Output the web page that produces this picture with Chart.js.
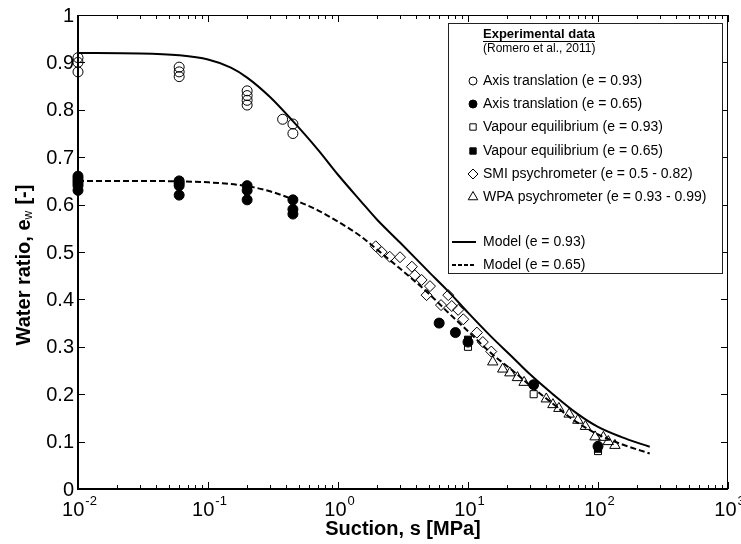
<!DOCTYPE html>
<html>
<head>
<meta charset="utf-8">
<script src="https://cdn.jsdelivr.net/npm/chart.js@4.4.1/dist/chart.umd.min.js"></script>
<style>
  html, body { margin: 0; padding: 0; background: #fff; }
  canvas { display: block; }
</style>
</head>
<body>
<canvas id="chart" width="741" height="544"></canvas>
<script>
// suction s [MPa] / water ratio e_w
const axisOpenS = [0.01, 0.01, 0.01, 0.06, 0.06, 0.06, 0.2, 0.2, 0.2, 0.2, 0.375, 0.45, 0.45]
const axisOpenE = [0.91, 0.90, 0.88, 0.89, 0.88, 0.87, 0.84, 0.83, 0.82, 0.81, 0.78, 0.77, 0.75]

const axisFilledS = [0.01, 0.01, 0.01, 0.01, 0.01, 0.01, 0.06, 0.06, 0.06, 0.06, 0.2, 0.2, 0.2, 0.45, 0.45, 0.45, 6, 8, 10, 32, 100]
const axisFilledE = [0.66, 0.655, 0.65, 0.645, 0.64, 0.63, 0.65, 0.645, 0.64, 0.62, 0.64, 0.63, 0.61, 0.61, 0.59, 0.58, 0.35, 0.33, 0.31, 0.22, 0.09]

const vapourOpenS = [10, 32, 100]
const vapourOpenE = [0.30, 0.20, 0.08]

const vapourFilledS = [6, 8, 10, 32, 100]
const vapourFilledE = [0.35, 0.33, 0.315, 0.22, 0.085]

const smiS = [1.95, 2.17, 2.5, 3.0, 3.7, 3.9, 4.4, 5.1, 4.8, 7.05, 6.2, 7.5, 8.4, 9.2, 11.7, 13.0, 15.1]
const smiE = [0.512, 0.50, 0.49, 0.489, 0.469, 0.451, 0.441, 0.428, 0.409, 0.409, 0.388, 0.386, 0.378, 0.358, 0.33, 0.31, 0.29]

const wpaS = [15.5, 18.5, 21, 24, 27, 40, 45, 50, 60, 70, 80, 95, 110, 120, 135]
const wpaE = [0.268, 0.253, 0.245, 0.235, 0.225, 0.19, 0.178, 0.17, 0.158, 0.145, 0.132, 0.11, 0.109, 0.10, 0.092]

const model093S = [0.01, 0.03, 0.06, 0.1, 0.15, 0.2, 0.3, 0.45, 0.7, 1, 1.5, 2, 3, 5, 7, 10, 15, 22, 30, 45, 70, 100, 150, 250]
const model093E = [0.920, 0.919, 0.915, 0.906, 0.889, 0.868, 0.827, 0.776, 0.716, 0.663, 0.607, 0.568, 0.520, 0.458, 0.418, 0.372, 0.322, 0.278, 0.242, 0.200, 0.158, 0.131, 0.110, 0.089]

const model065S = [0.01, 0.03, 0.06, 0.1, 0.2, 0.3, 0.45, 0.7, 1, 1.5, 2, 3, 5, 7, 10, 15, 22, 32, 45, 63, 100, 150, 250]
const model065E = [0.650, 0.650, 0.649, 0.647, 0.639, 0.628, 0.611, 0.588, 0.564, 0.533, 0.505, 0.465, 0.412, 0.373, 0.333, 0.287, 0.250, 0.212, 0.180, 0.148, 0.115, 0.095, 0.075]

const xTickExps = [-2, -1, 0, 1, 2, 3]
const yTicks = [0, 0.1, 0.2, 0.3, 0.4, 0.5, 0.6, 0.7, 0.8, 0.9, 1]

const FONT = '"Liberation Sans", Arial, Helvetica, sans-serif'
const NONE = "rgba(0,0,0,0)"

function pts(xs, ys) {
  return xs.map((x, i) => ({ x: x, y: ys[i] }))
}

function marker(label, xs, ys, style, radius, filled) {
  return {
    label: label,
    data: pts(xs, ys),
    pointStyle: style,
    pointRadius: radius,
    pointBorderWidth: 1,
    pointBorderColor: "#000",
    pointBackgroundColor: filled ? "#000" : NONE,
    showLine: false,
    clip: false
  }
}

function model(label, xs, ys, dash) {
  return {
    label: label,
    data: pts(xs, ys),
    showLine: true,
    borderColor: "#000",
    borderWidth: 2,
    borderDash: dash,
    pointRadius: 0,
    cubicInterpolationMode: "monotone",
    clip: false
  }
}

const axesPlugin = {
  id: "axesPlugin",
  afterDraw(chart) {
    const { ctx, chartArea: a, scales } = chart
    const x = scales.x, y = scales.y
    ctx.save()
    ctx.strokeStyle = "#000"
    ctx.fillStyle = "#000"

    // frame: heavier left/bottom
    ctx.lineWidth = 1
    ctx.beginPath()
    ctx.moveTo(a.left, a.top + 0.5)
    ctx.lineTo(a.right - 0.5, a.top + 0.5)
    ctx.lineTo(a.right - 0.5, a.bottom)
    ctx.stroke()
    ctx.lineWidth = 2
    ctx.beginPath()
    ctx.moveTo(a.left, a.top)
    ctx.lineTo(a.left, a.bottom)
    ctx.lineTo(a.right, a.bottom)
    ctx.stroke()

    // inward ticks
    ctx.lineWidth = 1
    ctx.beginPath()
    yTicks.forEach(v => {
      const py = Math.round(y.getPixelForValue(v)) + 0.5
      ctx.moveTo(a.left, py); ctx.lineTo(a.left + 7, py)
      ctx.moveTo(a.right, py); ctx.lineTo(a.right - 7, py)
    })
    xTickExps.forEach(e => {
      for (let m = 1; m <= 9; m++) {
        const v = m * Math.pow(10, e)
        if (v > 1000) break
        const px = Math.round(x.getPixelForValue(v)) + 0.5
        const len = m === 1 ? 7 : 4
        ctx.moveTo(px, a.bottom); ctx.lineTo(px, a.bottom - len)
        ctx.moveTo(px, a.top); ctx.lineTo(px, a.top + len)
      }
    })
    ctx.stroke()

    // y tick labels
    ctx.font = "20px " + FONT
    ctx.textAlign = "right"
    ctx.textBaseline = "middle"
    yTicks.forEach(v => {
      ctx.fillText(String(v), a.left - 4, y.getPixelForValue(v) + 1)
    })

    // x tick labels 10^n
    ctx.textAlign = "left"
    ctx.textBaseline = "alphabetic"
    xTickExps.forEach(e => {
      const px = x.getPixelForValue(Math.pow(10, e))
      ctx.font = "20px " + FONT
      const wb = ctx.measureText("10").width
      ctx.font = "13px " + FONT
      const we = ctx.measureText(String(e)).width
      const x0 = px - (wb + we) / 2 + 1
      ctx.font = "20px " + FONT
      ctx.fillText("10", x0, 516)
      ctx.font = "13px " + FONT
      ctx.fillText(String(e), x0 + wb + 1, 505)
    })

    // axis titles
    ctx.font = "bold 20px " + FONT
    ctx.textAlign = "center"
    ctx.textBaseline = "middle"
    ctx.fillText("Suction, s [MPa]", (a.left + a.right) / 2, 529)

    ctx.save()
    ctx.translate(24, 265)
    ctx.rotate(-Math.PI / 2)
    ctx.textAlign = "left"
    ctx.textBaseline = "middle"
    const p1 = "Water ratio, e", p2 = "w", p3 = " [-]"
    ctx.font = "bold 20px " + FONT
    const w1 = ctx.measureText(p1).width, w3 = ctx.measureText(p3).width
    ctx.font = "bold 12px " + FONT
    const w2 = ctx.measureText(p2).width
    let cx = -(w1 + w2 + w3) / 2
    ctx.font = "bold 20px " + FONT
    ctx.fillText(p1, cx, 0)
    ctx.font = "12px " + FONT
    ctx.fillText(p2, cx + w1, 5)
    ctx.font = "bold 20px " + FONT
    ctx.fillText(p3, cx + w1 + w2, 0)
    ctx.restore()

    // legend box
    const bx = 448, by = 23, bw = 274, bh = 250
    ctx.fillStyle = "#fff"
    ctx.fillRect(bx, by, bw, bh)
    ctx.strokeStyle = "#222"
    ctx.lineWidth = 1
    ctx.strokeRect(bx + 0.5, by + 0.5, bw, bh)
    ctx.fillStyle = "#000"
    ctx.strokeStyle = "#000"

    ctx.textAlign = "left"
    ctx.font = "bold 13px " + FONT
    ctx.fillText("Experimental data", 483, 34)
    const tw = ctx.measureText("Experimental data").width
    ctx.fillRect(483, 41, tw, 1)
    ctx.font = "12px " + FONT
    ctx.fillText("(Romero et al., 2011)", 483, 49)

    const rows = [81, 104, 127, 151, 174, 197, 242, 265]
    ctx.font = "14px " + FONT
    chart.data.datasets.forEach((ds, i) => {
      const ry = rows[i]
      if (ds.showLine) {
        ctx.save()
        ctx.lineWidth = 2
        ctx.setLineDash(ds.borderDash && ds.borderDash.length ? [4, 2] : [])
        ctx.beginPath()
        ctx.moveTo(452, ry); ctx.lineTo(476, ry)
        ctx.stroke()
        ctx.restore()
      } else {
        ctx.save()
        ctx.fillStyle = ds.pointBackgroundColor
        ctx.strokeStyle = "#000"
        ctx.lineWidth = 1
        Chart.helpers.drawPoint(ctx, {
          pointStyle: ds.pointStyle,
          radius: ds.pointStyle === "circle" ? 4 : ds.pointRadius - 0.5,
          rotation: 0,
          borderWidth: 1
        }, 473, ry)
        ctx.restore()
      }
      ctx.fillStyle = "#000"
      ctx.fillText(ds.label, 483, ry)
    })
    ctx.restore()
  }
}

new Chart(document.getElementById("chart"), {
  type: "scatter",
  data: {
    datasets: [
      marker("Axis translation (e = 0.93)", axisOpenS, axisOpenE, "circle", 5, false),
      marker("Axis translation (e = 0.65)", axisFilledS, axisFilledE, "circle", 5, true),
      marker("Vapour equilibrium (e = 0.93)", vapourOpenS, vapourOpenE, "rect", 5, false),
      marker("Vapour equilibrium (e = 0.65)", vapourFilledS, vapourFilledE, "rect", 5, true),
      marker("SMI psychrometer (e = 0.5 - 0.82)", smiS, smiE, "rectRot", 5.5, false),
      marker("WPA psychrometer (e = 0.93 - 0.99)", wpaS, wpaE, "triangle", 6, false),
      model("Model (e = 0.93)", model093S, model093E, []),
      model("Model (e = 0.65)", model065S, model065E, [6, 3])
    ]
  },
  options: {
    responsive: false,
    animation: false,
    events: [],
    layout: { padding: { left: 78, top: 15, right: 13, bottom: 55 } },
    plugins: {
      legend: { display: false },
      tooltip: { enabled: false }
    },
    scales: {
      x: { type: "logarithmic", min: 0.01, max: 1000, display: false },
      y: { type: "linear", min: 0, max: 1, display: false }
    }
  },
  plugins: [axesPlugin]
})
</script>
</body>
</html>
